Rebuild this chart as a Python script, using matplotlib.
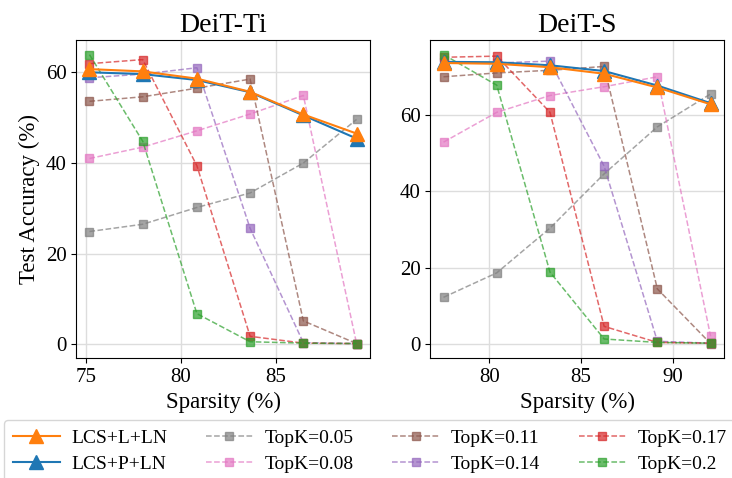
import matplotlib
matplotlib.use('Agg')
import matplotlib.pyplot as plt

plt.rcParams['font.family'] = ['Liberation Serif', 'DejaVu Serif']
plt.rcParams['mathtext.fontset'] = 'stix'

# DeiT-Ti
sp_ti = [75.2, 78.0, 80.85, 83.65, 86.45, 89.25]
lcs_l_ti = [60.7, 60.2, 58.6, 55.7, 50.7, 46.5]
lcs_p_ti = [60.0, 59.6, 58.3, 55.6, 50.5, 45.4]
topk_ti = {
    '0.05': [24.9, 26.5, 30.2, 33.4, 40.0, 49.6],
    '0.08': [41.0, 43.5, 47.1, 50.8, 54.9, 0.2],
    '0.11': [53.6, 54.6, 56.5, 58.5, 5.2, 0.2],
    '0.14': [58.8, 59.6, 61.0, 25.6, 0.4, 0.2],
    '0.17': [61.9, 62.8, 39.4, 1.8, 0.3, 0.2],
    '0.2': [63.9, 44.8, 6.8, 0.6, 0.3, 0.2],
}

# DeiT-S
sp_s = [77.5, 80.4, 83.3, 86.25, 89.15, 92.05]
lcs_l_s = [73.5, 73.3, 72.4, 70.7, 67.1, 62.7]
lcs_p_s = [73.8, 73.7, 72.9, 71.4, 67.6, 63.0]
topk_s = {
    '0.05': [12.2, 18.6, 30.3, 44.5, 56.8, 65.4],
    '0.08': [52.8, 60.6, 65.0, 67.3, 69.9, 2.0],
    '0.11': [69.9, 70.9, 71.6, 72.6, 14.4, 0.1],
    '0.14': [73.7, 73.5, 74.0, 46.5, 0.7, 0.2],
    '0.17': [75.0, 75.3, 60.6, 4.6, 0.4, 0.2],
    '0.2': [75.7, 67.7, 18.8, 1.3, 0.4, 0.2],
}

topk_colors = {'0.05': 'tab:gray', '0.08': 'tab:pink', '0.11': 'tab:brown',
               '0.14': 'tab:purple', '0.17': 'tab:red', '0.2': 'tab:green'}

fig, axes = plt.subplots(1, 2, figsize=(7.32, 4.78), dpi=100)

def draw(ax, sp, lcs_l, lcs_p, topk, title):
    for k in topk:
        ax.plot(sp, topk[k], '--s', color=topk_colors[k], alpha=0.7,
                markersize=6, linewidth=1.1, label='TopK=' + k, zorder=2)
    ax.plot(sp, lcs_p, '-^', color='tab:blue', markersize=10,
            linewidth=1.5, label='LCS+P+LN', zorder=3)
    ax.plot(sp, lcs_l, '-^', color='tab:orange', markersize=10,
            linewidth=1.5, label='LCS+L+LN', zorder=4)
    ax.set_title(title, fontsize=20)
    ax.set_xlabel('Sparsity (%)', fontsize=16.5)
    ax.tick_params(labelsize=15)
    ax.grid(True, color='#dddddd', linewidth=1)
    ax.set_axisbelow(True)

draw(axes[0], sp_ti, lcs_l_ti, lcs_p_ti, topk_ti, 'DeiT-Ti')
draw(axes[1], sp_s, lcs_l_s, lcs_p_s, topk_s, 'DeiT-S')
axes[0].set_ylabel('Test Accuracy (%)', fontsize=16.5)
axes[0].set_xticks([75, 80, 85])
axes[1].set_xticks([80, 85, 90])
axes[0].set_yticks([0, 20, 40, 60])
axes[1].set_yticks([0, 20, 40, 60])

handles, labels = axes[0].get_legend_handles_labels()
order = ['LCS+L+LN', 'LCS+P+LN', 'TopK=0.05', 'TopK=0.08', 'TopK=0.11',
         'TopK=0.14', 'TopK=0.17', 'TopK=0.2']
hd = dict(zip(labels, handles))
fig.legend([hd[l] for l in order], order, loc='upper center',
           bbox_to_anchor=(0.505, 0.121), ncol=4, fontsize=14,
           handlelength=2.4, handletextpad=0.6, columnspacing=2.0,
           labelspacing=0.45, borderpad=0.45, borderaxespad=0,
           frameon=True)

plt.subplots_adjust(left=0.104, right=0.989, top=0.916, bottom=0.251, wspace=0.205)
plt.savefig('out.png', dpi=100)
